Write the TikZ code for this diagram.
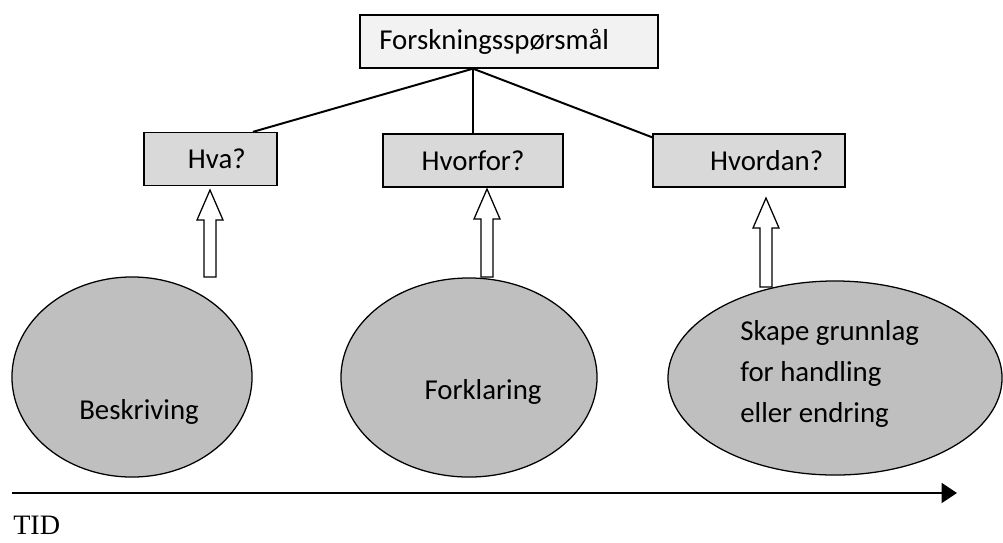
\documentclass[tikz,border=0pt]{standalone}
\usepackage{fontspec}
\setmainfont{Carlito}
\newfontfamily\tidfont{Liberation Serif}
\usetikzlibrary{shapes.geometric,arrows.meta}
\begin{document}
\begin{tikzpicture}[x=0.025cm,y=-0.025cm,
  boks/.style={draw,line width=0.9pt,minimum height=1.325cm,inner sep=0pt,font=\fontsize{20.5}{29}\selectfont},
  sporsmal/.style={boks,fill=gray!30},
  felt/.style={draw,ellipse,fill=gray!50,line width=0.9pt,inner sep=0pt},
  tekst/.style={font=\fontsize{20.5}{29}\selectfont,align=left,inner sep=0pt},
  pil/.style={draw,fill=white,line width=0.9pt,line join=miter}]

  \useasboundingbox (0,0) rectangle (1003,542);

  %boksene
	\node[boks,fill=gray!10,minimum width=7.45cm] (fsp) at (509,41.5) {Forskningsspørsmål\hspace*{21pt}};
	\node[sporsmal,minimum width=3.325cm] (hva) at (210.5,159) {\hspace*{9pt}Hva?};
	\node[sporsmal,minimum width=4.5cm] (hvorfor) at (473,160.5) {Hvorfor?};
	\node[sporsmal,minimum width=4.8cm] (hvordan) at (749,160.5) {\hspace*{25pt}Hvordan?};

  %linjer fra toppen
	\coordinate (topp) at (fsp.south -| hvorfor.north);
	\draw[line width=1.4pt] (topp) -- ([xshift=1.06cm]hva.north);
	\draw[line width=1.4pt] (topp) -- (hvorfor.north);
	\draw[line width=1.4pt] (topp) -- ([yshift=-0.1cm]hvordan.north west);

  %ellipsene
	\node[felt,minimum width=6cm,minimum height=5cm] (beskriv) at (132,377) {};
	\node[felt,minimum width=6.4cm,minimum height=4.975cm] (forklar) at (469,377.5) {};
	\node[felt,minimum width=8.35cm,minimum height=4.85cm] (handling) at (835,378) {};
	\node[tekst] (beskrivtekst) at (139,412) {Beskriving};
	\node[tekst] (forklartekst) at (483,392) {Forklaring};
	\node[tekst,anchor=west] (handlingtekst) at (740,374) {Skape grunnlag\\for handling\\eller endring};

  %blokpile
	\foreach \x/\tip/\bund in {210/190/277, 487/189/277, 766/198/287}
	  \draw[pil] (\x-6,\bund) -- (\x-6,\tip+30) -- (\x-13,\tip+30) -- (\x,\tip) -- (\x+13,\tip+30) -- (\x+6,\tip+30) -- (\x+6,\bund) -- cycle;

  %tidsakse
	\coordinate (tstart) at (12,493);
	\coordinate (tslut) at (957,493);
	\draw[line width=2.1pt,-{Triangle[length=11pt,width=14pt]}] (tstart) -- (tslut);
	\node[font=\tidfont\fontsize{20}{24}\selectfont,anchor=north west,inner sep=0pt] (tid) at (13,516) {TID};

\end{tikzpicture}
\end{document}
